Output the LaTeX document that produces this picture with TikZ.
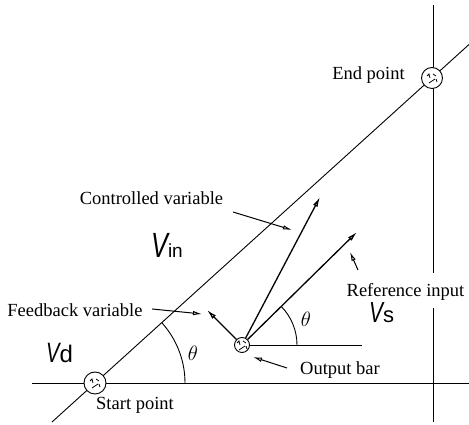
\documentclass[tikz,border=0pt]{standalone}
\usepackage{fontspec}
\setmainfont{Liberation Serif}
\newfontfamily\vfont{Liberation Sans}
\usetikzlibrary{arrows.meta}
\newcommand\Vlab[3]{{\fontsize{#1}{#1}\selectfont\vfont\itshape\scalebox{0.72}[1]{V}}{\fontsize{#2}{#2}\selectfont\vfont #3}}
\begin{document}
\begin{tikzpicture}[x=1pt,y=1pt,
  ln/.style={line width=0.9pt},
  vec/.style={line width=1.3pt,-{Latex[open,length=10pt,width=5pt]}},
  ptr/.style={line width=1pt,-{Latex[open,length=9pt,width=4.5pt]}},
  lbl/.style={font=\fontsize{18.5}{20}\selectfont,inner sep=0pt},
  vl/.style={inner sep=0pt,anchor=base west},
  th/.style={font=\fontsize{22}{24}\selectfont,inner sep=0pt},
  pt/.style={circle,draw,line width=0.9pt,fill=white,minimum size=#1,inner sep=0pt,
    path picture={
      \draw[line width=0.8pt] ([shift={(-5,2)}]path picture bounding box.center) -- ++(2,2) -- ++(1,-4);
      \draw[line width=0.8pt] ([shift={(1,4)}]path picture bounding box.center) -- ++(3,-2);
      \draw[line width=0.8pt] ([shift={(-3,-5)}]path picture bounding box.center) -- ++(3,2) -- ++(3,2);
      \draw[line width=0.8pt] ([shift={(4,-1)}]path picture bounding box.center) -- ++(1,-3);
    }}
]
\useasboundingbox (0,0) rectangle (469,425);
% coordinates
\coordinate (dl) at (52,3);
\coordinate (dr) at (469,380.5);
\coordinate (hl) at (32,42);
\coordinate (hr) at (469,42);
\coordinate (vt) at (433,420);
\coordinate (vg1) at (433,152);
\coordinate (vg2) at (433,117);
\coordinate (vb) at (433,3);
\coordinate (c1) at (320,228);
\coordinate (c2) at (357,193);
\coordinate (c3) at (207,115);
\coordinate (br) at (362,80);
% main lines
\draw[ln] (dl) -- (dr);
\draw[ln] (hl) -- (hr);
\draw[ln] (vt) -- (vg1);
\draw[ln] (vg2) -- (vb);
% points
\node[pt=22pt] (start) at (95,42) {};
\node[pt=21pt] (end) at (432,347) {};
\node[pt=15pt] (bar) at (242,80) {};
% output bar vectors
\draw[ln] (bar) -- (br);
\draw[vec] (bar) -- (c1);
\draw[vec] (bar) -- (c2);
\draw[vec] (bar) -- (c3);
% angles
\draw[ln] (297,80) arc[start angle=0,end angle=44.5,radius=55];
\draw[ln] (185,42) arc[start angle=0,end angle=42.1,radius=90];
\node[th] (th1) at (306,106) {$\theta$};
\node[th] (th2) at (193,72) {$\theta$};
% labels
\node[lbl] (cv) at (151.5,227) {Controlled variable};
\coordinate (cva) at (233,213);
\coordinate (cvb) at (292,195);
\draw[ptr] (cva) -- (cvb);
\node[lbl] (fb) at (75,115) {Feedback variable};
\coordinate (fba) at (152,116);
\coordinate (fbb) at (202,111);
\draw[ptr] (fba) -- (fbb);
\node[lbl] (ri) at (405.5,133) {Reference input};
\coordinate (ria) at (358,155);
\coordinate (rib) at (350,173);
\draw[ptr] (ria) -- (rib);
\node[lbl] (ob) at (340,55) {Output bar};
\coordinate (oba) at (287,57);
\coordinate (obb) at (253,68);
\draw[ptr] (oba) -- (obb);
\node[lbl] (sp) at (135,20) {Start point};
\node[lbl] (ep) at (368.5,350) {End point};
% V labels
\node[vl] (vin) at (151,167) {\Vlab{35}{19}{in}};
\node[vl] (vd) at (46,62) {\Vlab{28}{24}{d}};
\node[vl] (vs) at (369,102) {\Vlab{29}{22}{s}};
\end{tikzpicture}
\end{document}
